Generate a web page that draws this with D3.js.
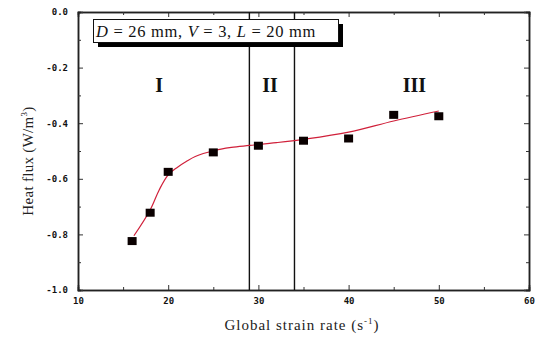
<!DOCTYPE html>
<html><head><meta charset="utf-8">
<script src="https://cdn.jsdelivr.net/npm/d3@7"></script>
<style>body{margin:0;background:#fff}svg{display:block}</style>
</head><body>
<script>
const strainRate = [16, 18, 20, 25, 30, 35, 40, 45, 50];
const heatFlux = [-0.824, -0.722, -0.575, -0.505, -0.481, -0.463, -0.455, -0.370, -0.375];
const fitX = [16.2, 18, 19, 20, 21, 22, 23, 25, 27, 29, 32, 35, 40, 45, 50];
const fitY = [-0.805, -0.712, -0.64, -0.586, -0.559, -0.538, -0.52, -0.499, -0.487, -0.480, -0.470, -0.458, -0.432, -0.392, -0.356];
const regionBounds = [29, 34];
const regionLabels = ["I", "II", "III"];
const regionLabelX = [19.0, 31.3, 47.3];
const xTicks = [10, 20, 30, 40, 50, 60];
const yTicks = [0, -0.2, -0.4, -0.6, -0.8, -1.0];
const yTickLabels = ["0.0", "-0.2", "-0.4", "-0.6", "-0.8", "-1.0"];

const W = 537, H = 338;
const m = {l: 78, r: 529, t: 12, b: 290};
const svg = d3.select("body").append("svg").attr("width", W).attr("height", H);
const x = d3.scaleLinear().domain([10, 60]).range([m.l, m.r]);
const y = d3.scaleLinear().domain([-1, 0]).range([m.b, m.t]);

const tickFont = "'DejaVu Sans Mono', monospace";
const minorX = [15, 25, 35, 45, 55];
const minorY = [-0.1, -0.3, -0.5, -0.7, -0.9];
// bottom axis
svg.append("g").attr("transform", `translate(0,${m.b})`).call(d3.axisBottom(x).tickValues(xTicks).tickSize(-5).tickPadding(8).tickFormat(d3.format("d")));
svg.append("g").attr("transform", `translate(0,${m.b})`).call(d3.axisBottom(x).tickValues(minorX).tickSize(-3).tickFormat(""));
// top axis
svg.append("g").attr("transform", `translate(0,${m.t})`).call(d3.axisTop(x).tickValues(xTicks).tickSize(-5).tickFormat(""));
svg.append("g").attr("transform", `translate(0,${m.t})`).call(d3.axisTop(x).tickValues(minorX).tickSize(-3).tickFormat(""));
// left axis
svg.append("g").attr("transform", `translate(${m.l},0)`).call(d3.axisLeft(y).tickValues(yTicks).tickSize(-5).tickPadding(10).tickFormat((d,i)=>yTickLabels[i]));
svg.append("g").attr("transform", `translate(${m.l},0)`).call(d3.axisLeft(y).tickValues(minorY).tickSize(-3).tickFormat(""));
// right axis
svg.append("g").attr("transform", `translate(${m.r},0)`).call(d3.axisRight(y).tickValues(yTicks).tickSize(-5).tickFormat(""));
svg.append("g").attr("transform", `translate(${m.r},0)`).call(d3.axisRight(y).tickValues(minorY).tickSize(-3).tickFormat(""));

svg.selectAll(".domain").attr("stroke", "#222").attr("stroke-width", 1.5);
svg.selectAll(".tick line").attr("stroke", "#333");
svg.selectAll(".tick text").attr("font-family", tickFont).attr("font-weight", "bold").attr("font-size", 9).attr("fill", "#111");

// vertical region lines
svg.selectAll(".vline").data(regionBounds).enter().append("line")
  .attr("x1", d => x(d)).attr("x2", d => x(d)).attr("y1", m.t).attr("y2", m.b)
  .attr("stroke", "#111").attr("stroke-width", 1.4);

// legend box with shadow
svg.append("rect").attr("x", 98).attr("y", 24).attr("width", 245).attr("height", 23).attr("fill", "#000");
svg.append("rect").attr("x", 93.5).attr("y", 19.5).attr("width", 245).attr("height", 23).attr("fill", "#fff").attr("stroke", "#111").attr("stroke-width", 1);
const lt = svg.append("text").attr("x", 96).attr("y", 36.5).attr("font-family", "'Liberation Serif', serif")
  .attr("font-size", 16.5).attr("letter-spacing", 0.7).attr("fill", "#111");
lt.append("tspan").attr("font-style", "italic").text("D");
lt.append("tspan").text(" = 26 mm, ");
lt.append("tspan").attr("font-style", "italic").text("V");
lt.append("tspan").text(" = 3, ");
lt.append("tspan").attr("font-style", "italic").text("L");
lt.append("tspan").text(" = 20 mm");

// region labels
svg.selectAll(".rl").data(regionLabels).enter().append("text")
  .attr("x", (d,i) => x(regionLabelX[i])).attr("y", 92).attr("text-anchor", "middle")
  .attr("font-family", "'Liberation Serif', serif").attr("font-weight", "bold").attr("font-size", 20).attr("fill", "#111")
  .text(d => d);

// fitted curve
const fit = fitX.map((v,i) => [v, fitY[i]]);
svg.append("path").datum(fit)
  .attr("d", d3.line().x(d => x(d[0])).y(d => y(d[1])).curve(d3.curveCatmullRom))
  .attr("fill", "none").attr("stroke", "#d0203a").attr("stroke-width", 1.2);

// points
const s = 9;
svg.selectAll(".pt").data(strainRate).enter().append("rect")
  .attr("x", d => x(d) - s/2).attr("y", (d,i) => y(heatFlux[i]) - s/2 + 0.5)
  .attr("width", s).attr("height", s - 1).attr("fill", "#0a0000");

// axis titles
svg.append("text").attr("transform", `translate(33,${(m.t+m.b)/2 + 10}) rotate(-90)`).attr("text-anchor", "middle")
  .attr("font-family", "'Liberation Serif', serif").attr("font-size", 15).attr("fill", "#222").attr("letter-spacing", 0.3)
  .html("Heat flux (W/m<tspan dy='-6' font-size='9'>3</tspan><tspan dy='6'>)</tspan>");
svg.append("text").attr("x", 302).attr("y", 330).attr("text-anchor", "middle")
  .attr("font-family", "'Liberation Serif', serif").attr("font-size", 15).attr("fill", "#222").attr("letter-spacing", 1)
  .html("Global strain rate (s<tspan dy='-6' font-size='9'>-1</tspan><tspan dy='6'>)</tspan>");
</script>
</body></html>
